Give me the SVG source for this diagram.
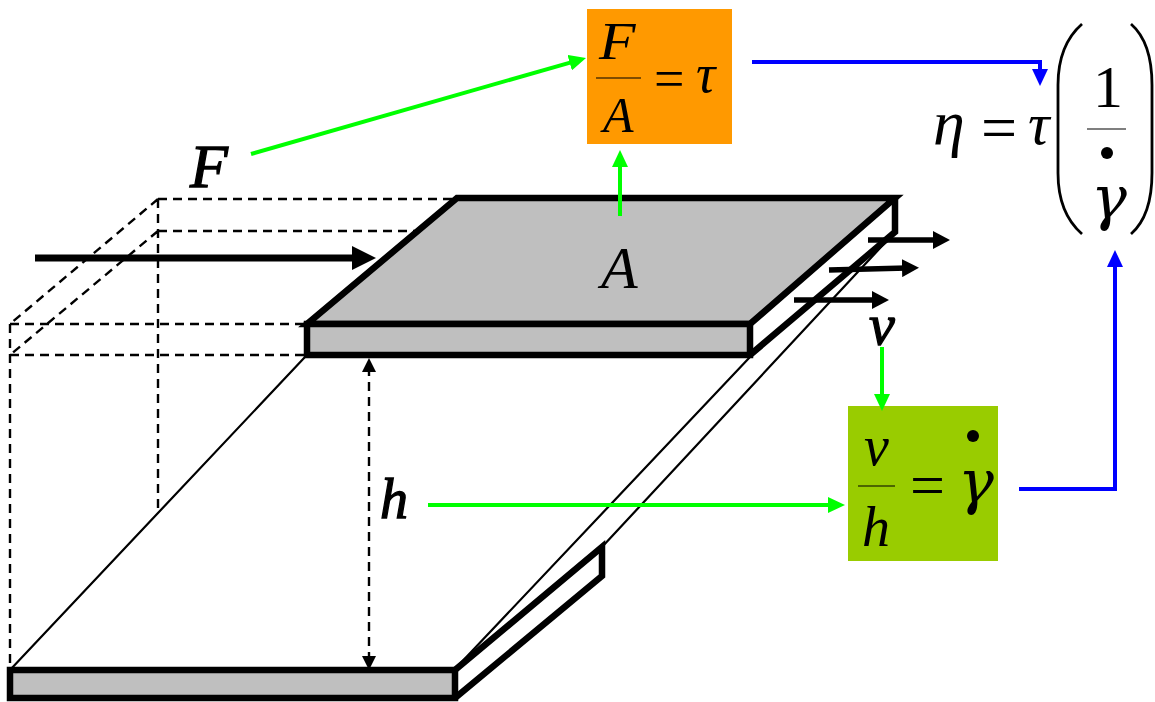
<svg xmlns="http://www.w3.org/2000/svg" width="1155" height="702" viewBox="0 0 1155 702">
<style>
text{font-family:"Liberation Serif","Times New Roman",serif;font-style:italic;fill:#000}
.up{font-style:normal}
.big{font-size:58px}
.gam{font-family:"DejaVu Serif",serif;font-size:60px}
.lbl{font-size:60px;stroke:#000;stroke-width:1.3px}
.dash{stroke:#000;stroke-width:2.4;stroke-dasharray:9 6;fill:none}
.thin{stroke:#000;stroke-width:2.2;fill:none}
.plate{stroke:#000;stroke-width:6.5;stroke-linejoin:miter}
.grey{fill:#bfbfbf}
.none{fill:none}
.green{stroke:#00ff00;stroke-width:4;fill:none}
.blue{stroke:#0000ff;stroke-width:4;fill:none}
.black{stroke:#000;stroke-width:5.5;fill:none}
.bar{stroke:#000;stroke-width:1.2}
</style>
<defs>
<marker id="ag" markerUnits="userSpaceOnUse" markerWidth="18" markerHeight="16" refX="5" refY="8" orient="auto"><path d="M0 0L17 8L0 16Z" fill="#00ff00"/></marker>
<marker id="ab" markerUnits="userSpaceOnUse" markerWidth="18" markerHeight="16" refX="5" refY="8" orient="auto"><path d="M0 0L17 8L0 16Z" fill="#0000ff"/></marker>
<marker id="ak" markerUnits="userSpaceOnUse" markerWidth="18" markerHeight="18" refX="5" refY="9" orient="auto"><path d="M0 0L17 9L0 18Z" fill="#000"/></marker>
<marker id="aK" markerUnits="userSpaceOnUse" markerWidth="24" markerHeight="24" refX="12" refY="12" orient="auto"><path d="M0 0L24 12L0 24Z" fill="#000"/></marker>
<marker id="ad" markerUnits="userSpaceOnUse" markerWidth="14" markerHeight="14" refX="5" refY="7" orient="auto-start-reverse"><path d="M0 0L14 7L0 14Z" fill="#000"/></marker>
</defs>

<g id="guides">
<path class="dash" d="M158 199H457M158 231H415M158 199L10 324M158 231L10 355M10 324H307M10 355H307M158 199V512M10 324V670"/>
</g>

<g id="thin-edges">
<path class="thin" d="M305 357L10 670M750 357L456 668M895 232L602 547"/>
</g>

<g id="bottom-plate">
<path class="plate none" d="M455 670L602 547V576L455 698"/>
<rect class="plate grey" x="10" y="670" width="445" height="28"/>
</g>

<g id="top-plate">
<path class="plate none" d="M895 198V232L750 355"/>
<path class="plate grey" d="M307 324L457 198H895L750 324Z"/>
<rect class="plate grey" x="307" y="324" width="443" height="31"/>
<text class="big" x="601" y="288" style="font-size:60px">A</text>
</g>

<g id="label-F"><text class="lbl" x="190" y="187" style="font-size:62px">F</text></g>
<g id="label-v"><text class="lbl" x="869" y="344" style="font-size:58px">v</text></g>
<g id="label-h"><text class="lbl" x="380" y="518" style="font-size:56px">h</text></g>

<g id="box-stress">
<rect x="587" y="9" width="145" height="135" fill="#ff9900"/>
<text class="big" transform="translate(599 59) scale(1.15 1)" style="font-size:52px">F</text>
<line class="bar" x1="596" y1="78" x2="641" y2="78"/>
<text class="big" x="603" y="132" style="font-size:50px">A</text>
<text class="big up" x="654" y="97" style="font-size:54px">=</text>
<text class="big" x="696" y="92" style="font-size:54px">τ</text>
</g>

<g id="box-shear-rate">
<rect x="848" y="406" width="150" height="155" fill="#99cc00"/>
<text class="big" x="864" y="465" style="font-size:56px">v</text>
<line class="bar" x1="858" y1="486" x2="895" y2="486"/>
<text class="big" x="862" y="546" style="font-size:56px">h</text>
<text class="big up" x="910" y="506" style="font-size:62px">=</text>
<text class="gam" x="958" y="503">γ</text>
<circle cx="973" cy="436" r="6"/>
</g>

<g id="viscosity">
<text class="big" x="933" y="144" style="font-size:64px">η</text>
<text class="big up" x="981" y="149" style="font-size:64px">=</text>
<text class="big" x="1028" y="144" style="font-size:60px">τ</text>
<path d="M1082 24C1066 38 1058 60 1058 85V173C1058 198 1066 220 1082 234" fill="none" stroke="#000" stroke-width="2.8"/>
<path d="M1131 24C1147 38 1152 60 1152 85V173C1152 198 1147 220 1131 234" fill="none" stroke="#000" stroke-width="2.8"/>
<text class="big up" x="1093" y="107" style="font-size:60px">1</text>
<line class="bar" x1="1087" y1="129" x2="1126" y2="129"/>
<circle cx="1107" cy="153" r="6"/>
<text class="gam" x="1091" y="219">γ</text>
</g>

<g id="connectors">
<path class="black" style="stroke-width:7" d="M35 258H364" marker-end="url(#aK)"/>
<path class="black" d="M868 240H938" marker-end="url(#ak)"/>
<path class="black" d="M829 270L907 268" marker-end="url(#ak)"/>
<path class="black" d="M794 300H877" marker-end="url(#ak)"/>
<path class="dash" d="M369 367V661" marker-start="url(#ad)" marker-end="url(#ad)"/>
<path class="green" d="M251 154L574.5 61.3" marker-end="url(#ag)"/>
<path class="green" d="M620 216V162" marker-end="url(#ag)"/>
<path class="green" d="M882 347V399" marker-end="url(#ag)"/>
<path class="green" d="M428 505H833" marker-end="url(#ag)"/>
<path class="blue" d="M752 62H1040V74" marker-end="url(#ab)"/>
<path class="blue" d="M1019 489H1115V262" marker-end="url(#ab)"/>
</g>
</svg>
